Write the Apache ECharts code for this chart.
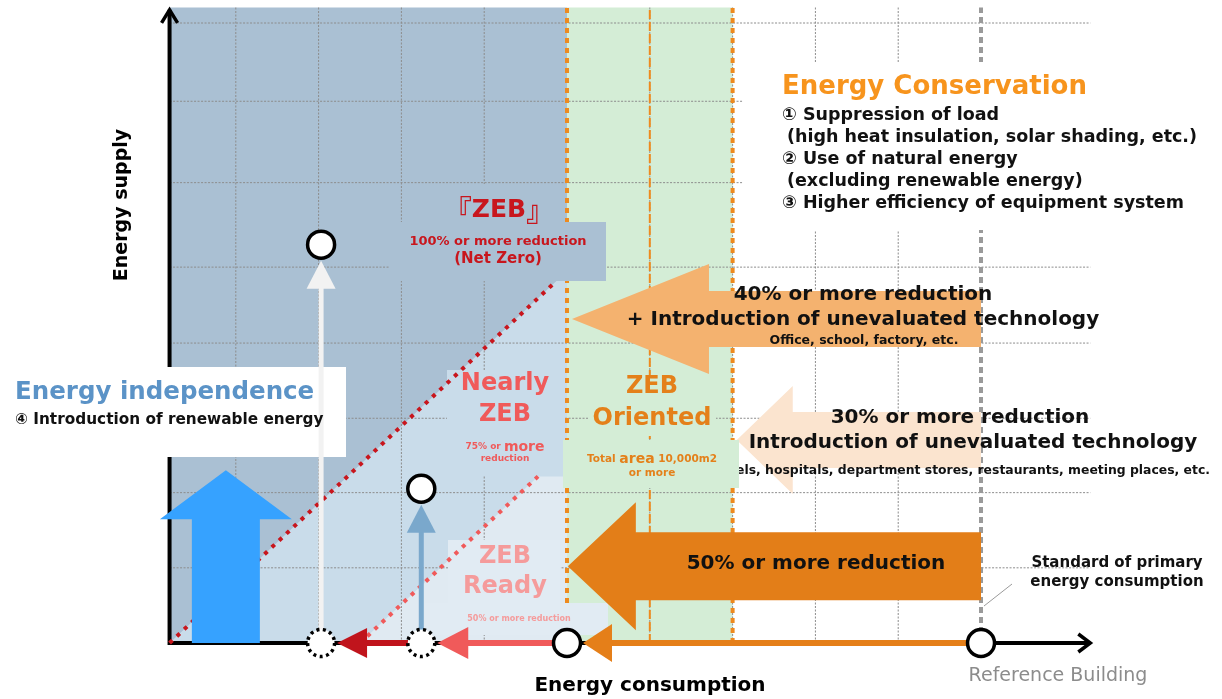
<!DOCTYPE html>
<html>
<head>
<meta charset="utf-8">
<title>ZEB</title>
<script src="https://cdn.jsdelivr.net/npm/echarts@6/dist/echarts.min.js"></script>
<style>
  html, body { margin: 0; padding: 0; background: #fff; }
  #chart { width: 1222px; height: 699px; }
</style>
</head>
<body>
<div id="chart"></div>
<script>
// x: energy consumption (% of reference building), y: energy supply, same units
const gridX = [10, 20, 30, 40, 60, 70, 80, 90]
const gridY = [9.7, 19.4, 29, 38.7, 48.5, 59.4, 69.9, 80]
const axisOrigin = [2, 0]
const axisEnd = [113.2, 81.7]

// Reference -> ZEB Ready -> Nearly ZEB -> ZEB
const stepNames = ['Reference Building', 'ZEB Ready', 'Nearly ZEB', 'ZEB']
const stepConsumption = [100, 50, 32.4, 20.3]
const stepSupply = [0, 0, 19.9, 51.4]

const netZeroLine = [[2, 0], [48.5, 46.5]]
const readyLine = [[25, 0], [46.5, 21.5]]
const orientedBand = [50, 70]
const orientedMid = 60

// reduction arrows drawn from the reference building
const reductionNames = ['40%', '30%', '50%']
const reductionTip = [50.6, 70.5, 50.1]
const reductionLevel = [41.8, 26.2, 9.9]

// renewable energy arrow: x, from, to
const renewableArrow = [8.8, 0, 22.3]

const TOP = 82
const FONT = '"DejaVu Sans", "Noto Sans CJK JP", sans-serif'
const font = (size, weight) => (weight || 'bold') + ' ' + size + 'px ' + FONT

const chart = echarts.init(document.getElementById('chart'))

function txt(x, y, str, size, color, extra) {
  const el = {
    type: 'text', x: x, y: y, z: 20, silent: true,
    style: { text: str, font: font(size), fill: color || '#111', textAlign: 'center', textVerticalAlign: 'middle' }
  }
  if (extra) {
    Object.assign(el.style, extra.style || {})
    if (extra.z) el.z = extra.z
    if (extra.rotation) el.rotation = extra.rotation
  }
  return el
}
function box(x, y, w, h, fill, z) {
  return { type: 'rect', z: z || 4, silent: true, shape: { x: x, y: y, width: w, height: h }, style: { fill: fill } }
}

function renderZones(params, api) {
  const c = p => api.coord(p)
  const x0 = axisOrigin[0], xr = orientedBand[0], xg = orientedBand[1]
  const nz = netZeroLine, rd = readyLine
  return {
    type: 'group',
    children: [
      { type: 'polygon', shape: { points: [c([x0, 0]), c([x0, TOP]), c([xr, TOP]), c([xr, 0])] }, style: { fill: '#aac0d3' } },
      { type: 'polygon', shape: { points: [c(nz[0]), c(nz[1]), c([xr, nz[1][1] + xr - nz[1][0]]), c([xr, 0])] }, style: { fill: '#c9dcea' } },
      { type: 'polygon', shape: { points: [c(rd[0]), c(rd[1]), c([xr, rd[1][1]]), c([xr, 0])] }, style: { fill: '#e0eaf2' } },
      { type: 'polygon', shape: { points: [c([xr, 0]), c([xr, TOP]), c([xg, TOP]), c([xg, 0])] }, style: { fill: '#d4edd6' } }
    ]
  }
}

const gridStyle = { stroke: '#8c8c8c', lineWidth: 1, lineDash: [2, 1.5] }
function renderGridV(params, api) {
  const a = api.coord([api.value(0), 0]), b = api.coord([api.value(0), TOP])
  return { type: 'line', shape: { x1: a[0], y1: a[1], x2: b[0], y2: b[1] }, style: gridStyle }
}
function renderGridH(params, api) {
  const a = api.coord([axisOrigin[0], api.value(1)]), b = api.coord([axisEnd[0], api.value(1)])
  return { type: 'line', shape: { x1: a[0], y1: a[1], x2: b[0], y2: b[1] }, style: gridStyle }
}

function renderAxes(params, api) {
  const o = api.coord(axisOrigin)
  const xe = api.coord([axisEnd[0], 0])
  const ye = api.coord([axisOrigin[0], axisEnd[1]])
  const st = { stroke: '#000', lineWidth: 4, fill: null }
  return {
    type: 'group',
    children: [
      { type: 'line', shape: { x1: o[0], y1: o[1], x2: xe[0], y2: xe[1] }, style: st },
      { type: 'line', shape: { x1: o[0], y1: o[1] + 2, x2: ye[0], y2: ye[1] }, style: st },
      { type: 'polyline', shape: { points: [[xe[0] - 12, xe[1] - 9], [xe[0], xe[1]], [xe[0] - 12, xe[1] + 9]] }, style: { stroke: '#000', lineWidth: 3.5, fill: null } },
      { type: 'polyline', shape: { points: [[ye[0] - 8, ye[1] + 13], [ye[0], ye[1]], [ye[0] + 8, ye[1] + 13]] }, style: { stroke: '#000', lineWidth: 3.5, fill: null } }
    ]
  }
}

const reductionLook = [
  { fill: '#f4b26f', head: 137, sh: 28, hh: 55 },
  { fill: '#fbe4cf', head: 56, sh: 28, hh: 54 },
  { fill: '#e37e18', head: 68, sh: 34, hh: 64 }
]
function renderReduction(params, api) {
  const tip = api.coord([api.value(0), api.value(1)])
  const tail = api.coord([api.value(2), api.value(1)])
  const k = reductionLook[params.dataIndex]
  const bx = tip[0] + k.head
  return {
    type: 'polygon',
    shape: { points: [tip, [bx, tip[1] - k.hh], [bx, tip[1] - k.sh], [tail[0], tail[1] - k.sh],
      [tail[0], tail[1] + k.sh], [bx, tip[1] + k.sh], [bx, tip[1] + k.hh]] },
    style: { fill: k.fill }
  }
}

const stepLook = [
  { color: '#e57f19', head: 29, hh: 19 },
  { color: '#f05a5a', head: 31, hh: 16 },
  { color: '#c0141c', head: 30, hh: 15 }
]
function renderStep(params, api) {
  const from = api.coord([api.value(0), 0])
  const to = api.coord([api.value(2), 0])
  const k = stepLook[params.dataIndex]
  const tipX = to[0] + 16, baseX = tipX + k.head
  return {
    type: 'group',
    children: [
      { type: 'line', shape: { x1: from[0] - 11, y1: from[1], x2: baseX - 1, y2: from[1] }, style: { stroke: k.color, lineWidth: 6 } },
      { type: 'polygon', shape: { points: [[tipX, to[1]], [baseX, to[1] - k.hh], [baseX, to[1] + k.hh]] }, style: { fill: k.color } }
    ]
  }
}

const supplyColors = { 'Nearly ZEB': '#7aa8cc', 'ZEB': '#f2f2f2' }
function renderSupply(params, api) {
  const base = api.coord([api.value(0), 0])
  const top = api.coord([api.value(0), api.value(1)])
  const color = supplyColors[stepNames[api.value(2)]]
  const tipY = top[1] + 16, baseY = tipY + 28
  return {
    type: 'group',
    children: [
      { type: 'line', shape: { x1: base[0], y1: base[1] - 13, x2: base[0], y2: baseY - 1 }, style: { stroke: color, lineWidth: 5 } },
      { type: 'polygon', shape: { points: [[top[0], tipY], [top[0] - 14.5, baseY], [top[0] + 14.5, baseY]] }, style: { fill: color } }
    ]
  }
}

function renderRenewable(params, api) {
  const b = api.coord([api.value(0), api.value(1)])
  const t = api.coord([api.value(0), api.value(2)])
  const hb = t[1] + 49
  return {
    type: 'polygon',
    shape: { points: [[t[0], t[1]], [t[0] + 66, hb], [t[0] + 34, hb], [b[0] + 34, b[1]], [b[0] - 34, b[1]], [t[0] - 34, hb], [t[0] - 66, hb]] },
    style: { fill: '#36a2ff' }
  }
}

function vline(x, color, width, dash) {
  return { type: 'line', data: [[x, 0], [x, TOP]], symbol: 'none', silent: true, z: 3,
    lineStyle: { color: color, width: width, type: dash } }
}

const supplySteps = stepConsumption.map((x, i) => [x, stepSupply[i], i]).filter(d => d[1] > 0)

const left = { style: { textAlign: 'left' } }

const option = {
  animation: false,
  grid: { left: 153, right: 108.5, top: 7.5, bottom: 56 },
  xAxis: { type: 'value', min: 0, max: 116, show: false },
  yAxis: { type: 'value', min: 0, max: TOP, show: false },
  series: [
    { type: 'custom', name: 'zones', z: 1, silent: true, renderItem: renderZones, data: [axisOrigin] },
    { type: 'custom', name: 'gridV', z: 2, silent: true, renderItem: renderGridV, data: gridX.map(x => [x, 0]) },
    { type: 'custom', name: 'gridH', z: 2, silent: true, renderItem: renderGridH, data: gridY.map(y => [axisOrigin[0], y]) },
    vline(orientedBand[0], '#ee8a1e', 4, [5, 5]),
    vline(orientedBand[1], '#ee8a1e', 4, [5, 5]),
    vline(orientedMid, '#ee8a1e', 2, [9, 3]),
    vline(stepConsumption[0], '#9a9a9a', 4, [6, 4]),
    { type: 'custom', name: 'axes', z: 3, silent: true, renderItem: renderAxes, data: [axisOrigin] },
    { type: 'line', name: 'net zero', data: netZeroLine, symbol: 'none', silent: true, z: 5,
      lineStyle: { color: '#c8161d', width: 4, type: [4, 6] } },
    { type: 'line', name: 'ready', data: readyLine, symbol: 'none', silent: true, z: 5,
      lineStyle: { color: '#f05a5a', width: 4, type: [4, 6] } },
    { type: 'custom', name: 'reduction', z: 6, silent: true, renderItem: renderReduction,
      data: reductionNames.map((n, i) => [reductionTip[i], reductionLevel[i], stepConsumption[0]]) },
    { type: 'custom', name: 'steps', z: 10, silent: true, renderItem: renderStep,
      data: stepConsumption.slice(0, -1).map((x, i) => [x, 0, stepConsumption[i + 1]]) },
    { type: 'custom', name: 'supply', z: 10, silent: true, renderItem: renderSupply, data: supplySteps },
    { type: 'custom', name: 'renewable', z: 10, silent: true, renderItem: renderRenewable, data: [renewableArrow] },
    { type: 'scatter', name: 'before', z: 11, silent: true, symbol: 'circle', symbolSize: 27,
      data: supplySteps.map(d => [d[0], 0]),
      itemStyle: { color: '#fff', borderColor: '#000', borderWidth: 3.5, borderType: [3, 3.5], opacity: 1 } },
    { type: 'scatter', name: 'steps', z: 11, silent: true, symbol: 'circle', symbolSize: 27,
      data: stepConsumption.map((x, i) => [x, stepSupply[i]]),
      itemStyle: { color: '#fff', borderColor: '#000', borderWidth: 3.5, opacity: 1 } }
  ],
  graphic: {
    elements: [
      // boxes behind labels
      box(430, 184, 130, 38, '#aac0d3'),
      box(390, 222, 216, 59, '#aac0d3'),
      box(447, 370, 118, 106, '#c9dcea'),
      box(448, 540, 112, 63, '#e1ebf3'),
      box(425, 603, 183, 32, '#e1ebf3'),
      box(588, 375, 128, 61, '#d4edd6'),
      box(563, 440, 176, 48, '#d4edd6', 8),
      box(0, 367, 346, 90, '#ffffff'),
      box(743, 62, 457, 168, '#ffffff'),
      { type: 'line', z: 20, silent: true, shape: { x1: 984, y1: 606, x2: 1012, y2: 584 }, style: { stroke: '#9a9a9a', lineWidth: 1 } },

      // axis titles
      txt(122, 205, 'Energy supply', 19, '#000', { rotation: Math.PI / 2 }),
      txt(650, 686, 'Energy consumption', 20, '#000'),
      txt(1058, 676, 'Reference Building', 19, '#8c8c8c', { style: { font: font(19, 'normal') } }),
      txt(1117, 563, 'Standard of primary', 15, '#111'),
      txt(1117, 582, 'energy consumption', 15, '#111'),

      // energy conservation
      txt(782, 87, 'Energy Conservation', 26, '#f7941d', left),
      txt(782, 115, '\u2460 Suppression of load', 17.5, '#111', left),
      txt(787, 137, '(high heat insulation, solar shading, etc.)', 17.5, '#111', left),
      txt(782, 159, '\u2461 Use of natural energy', 17.5, '#111', left),
      txt(787, 181, '(excluding renewable energy)', 17.5, '#111', left),
      txt(782, 203, '\u2462 Higher efficiency of equipment system', 17.5, '#111', left),

      // ZEB
      txt(499, 210, '{b|\u300e}{a|ZEB}{b|\u300f}', 25, '#c8161d', { style: { rich: {
        a: { font: font(25), fill: '#c8161d' },
        b: { font: 'bold 28px "Noto Sans CJK JP", sans-serif', fill: '#c8161d' } } } }),
      txt(498, 242, '100% or more reduction', 13, '#c8161d'),
      txt(498, 259, '(Net Zero)', 15, '#c8161d'),

      // Nearly ZEB
      txt(505, 384, 'Nearly', 24, '#f05a5a'),
      txt(505, 415, 'ZEB', 24, '#f05a5a'),
      txt(505, 447, '{a|75% or }{b|more}', 9, '#f05a5a', { style: { rich: {
        a: { font: font(9), fill: '#f05a5a' }, b: { font: font(14), fill: '#f05a5a' } } } }),
      txt(505, 459, 'reduction', 9, '#f05a5a'),

      // ZEB Oriented
      txt(652, 387, 'ZEB', 24, '#e4801a', { z: 9 }),
      txt(652, 419, 'Oriented', 24, '#e4801a', { z: 9 }),
      txt(652, 459, '{a|Total }{b|area}{a| 10,000m2}', 10, '#e4801a', { z: 9, style: { rich: {
        a: { font: font(10.5), fill: '#e4801a' }, b: { font: font(14), fill: '#e4801a' } } } }),
      txt(652, 473, 'or more', 10.5, '#e4801a', { z: 9 }),

      // ZEB Ready
      txt(505, 557, 'ZEB', 24, '#f59b9b'),
      txt(505, 587, 'Ready', 24, '#f59b9b'),
      txt(519, 619, '50% or more reduction', 8, '#f59b9b'),

      // energy independence
      txt(15, 393, 'Energy independence', 24.5, '#5b93c7', left),
      txt(15, 420, '\u2463 Introduction of renewable energy', 15.3, '#111', left),

      // reduction arrows
      txt(863, 295, '40% or more reduction', 20, '#111'),
      txt(863, 320, '+ Introduction of unevaluated technology', 20, '#111'),
      txt(864, 341, 'Office, school, factory, etc.', 12.5, '#111'),
      txt(960, 418, '30% or more reduction', 20, '#111', { z: 7 }),
      txt(973, 443, 'Introduction of unevaluated technology', 20, '#111', { z: 7 }),
      txt(1210, 471, 'Hotels, hospitals, department stores, restaurants, meeting places, etc.', 12.4, '#111', { z: 7, style: { textAlign: 'right' } }),
      txt(816, 564, '50% or more reduction', 20, '#111')
    ]
  }
}

chart.setOption(option)
</script>
</body>
</html>
